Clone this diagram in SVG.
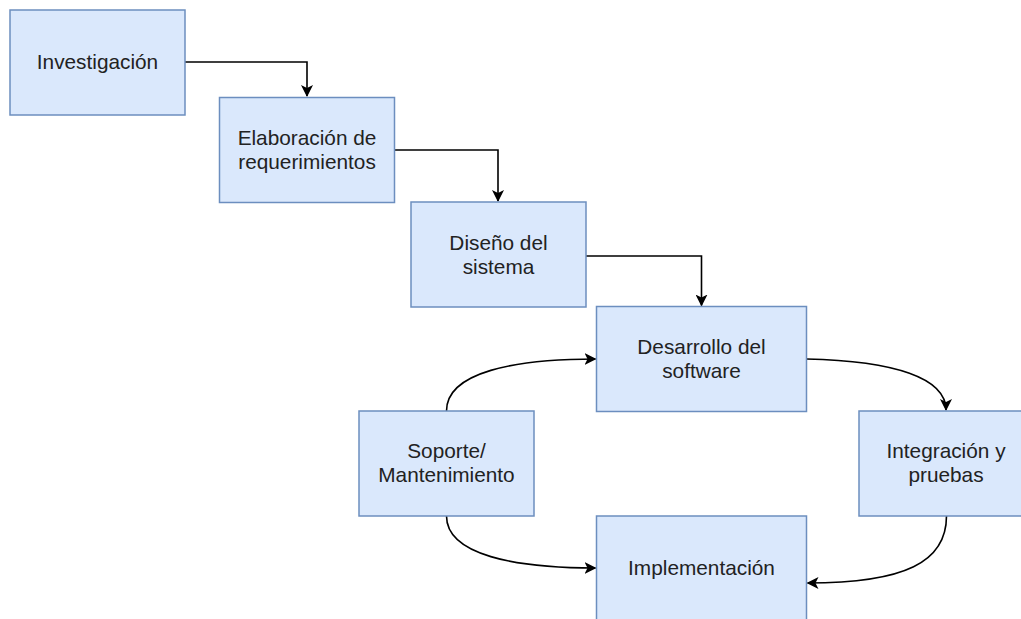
<svg xmlns="http://www.w3.org/2000/svg" width="1021" height="619" viewBox="0 0 1021 619">
<style>
.box{fill:#dae8fc;stroke:#6c8ebf;stroke-width:1.5}
.lbl{font-family:"Liberation Sans",Arial,Helvetica,sans-serif;font-size:20.8px;fill:#222;text-anchor:middle}
.edge{fill:none;stroke:#000;stroke-width:1.6}
</style>
<defs>
<marker id="arr" markerUnits="userSpaceOnUse" viewBox="0 0 12 12" markerWidth="12" markerHeight="12" refX="11" refY="6" orient="auto">
<path d="M0,0 L12,6 L0,12 L3,6 z" fill="#000"/>
</marker>
</defs>
<rect width="1021" height="619" fill="#fff"/>
<g id="connectors">
<path class="edge" d="M185,62 H307 V96" marker-end="url(#arr)"/>
<path class="edge" d="M394.5,150 H498 V201" marker-end="url(#arr)"/>
<path class="edge" d="M586,256 H701.5 V305.5" marker-end="url(#arr)"/>
<path class="edge" d="M806.5,359 C895,361 946,378 946,410" marker-end="url(#arr)"/>
<path class="edge" d="M946.5,516 C946.5,562 905,583 807.5,583" marker-end="url(#arr)"/>
<path class="edge" d="M446.5,411 C446.5,372 515,359 595.5,359" marker-end="url(#arr)"/>
<path class="edge" d="M446.5,516 C446.5,555 515,568 595.5,568" marker-end="url(#arr)"/>
</g>
<g id="n-investigacion">
<rect class="box" x="10" y="10" width="175" height="105"/>
<text class="lbl" x="97.5" y="69">Investigación</text>
</g>
<g id="n-elaboracion">
<rect class="box" x="219.5" y="97.5" width="175" height="105"/>
<text class="lbl" x="307" y="144.5">Elaboración de</text>
<text class="lbl" x="307" y="168.5">requerimientos</text>
</g>
<g id="n-diseno">
<rect class="box" x="411" y="202" width="175" height="105"/>
<text class="lbl" x="498.5" y="249.5">Diseño del</text>
<text class="lbl" x="498.5" y="273.5">sistema</text>
</g>
<g id="n-desarrollo">
<rect class="box" x="596.5" y="306.5" width="210" height="105"/>
<text class="lbl" x="701.5" y="353.5">Desarrollo del</text>
<text class="lbl" x="701.5" y="377.5">software</text>
</g>
<g id="n-soporte">
<rect class="box" x="359" y="411" width="175" height="105"/>
<text class="lbl" x="446.5" y="457.5">Soporte/</text>
<text class="lbl" x="446.5" y="481.5">Mantenimiento</text>
</g>
<g id="n-integracion">
<rect class="box" x="859" y="411" width="175" height="105"/>
<text class="lbl" x="946" y="457.5">Integración y</text>
<text class="lbl" x="946" y="481.5">pruebas</text>
</g>
<g id="n-implementacion">
<rect class="box" x="596.5" y="516" width="210" height="105"/>
<text class="lbl" x="701.5" y="575">Implementación</text>
</g>
</svg>
